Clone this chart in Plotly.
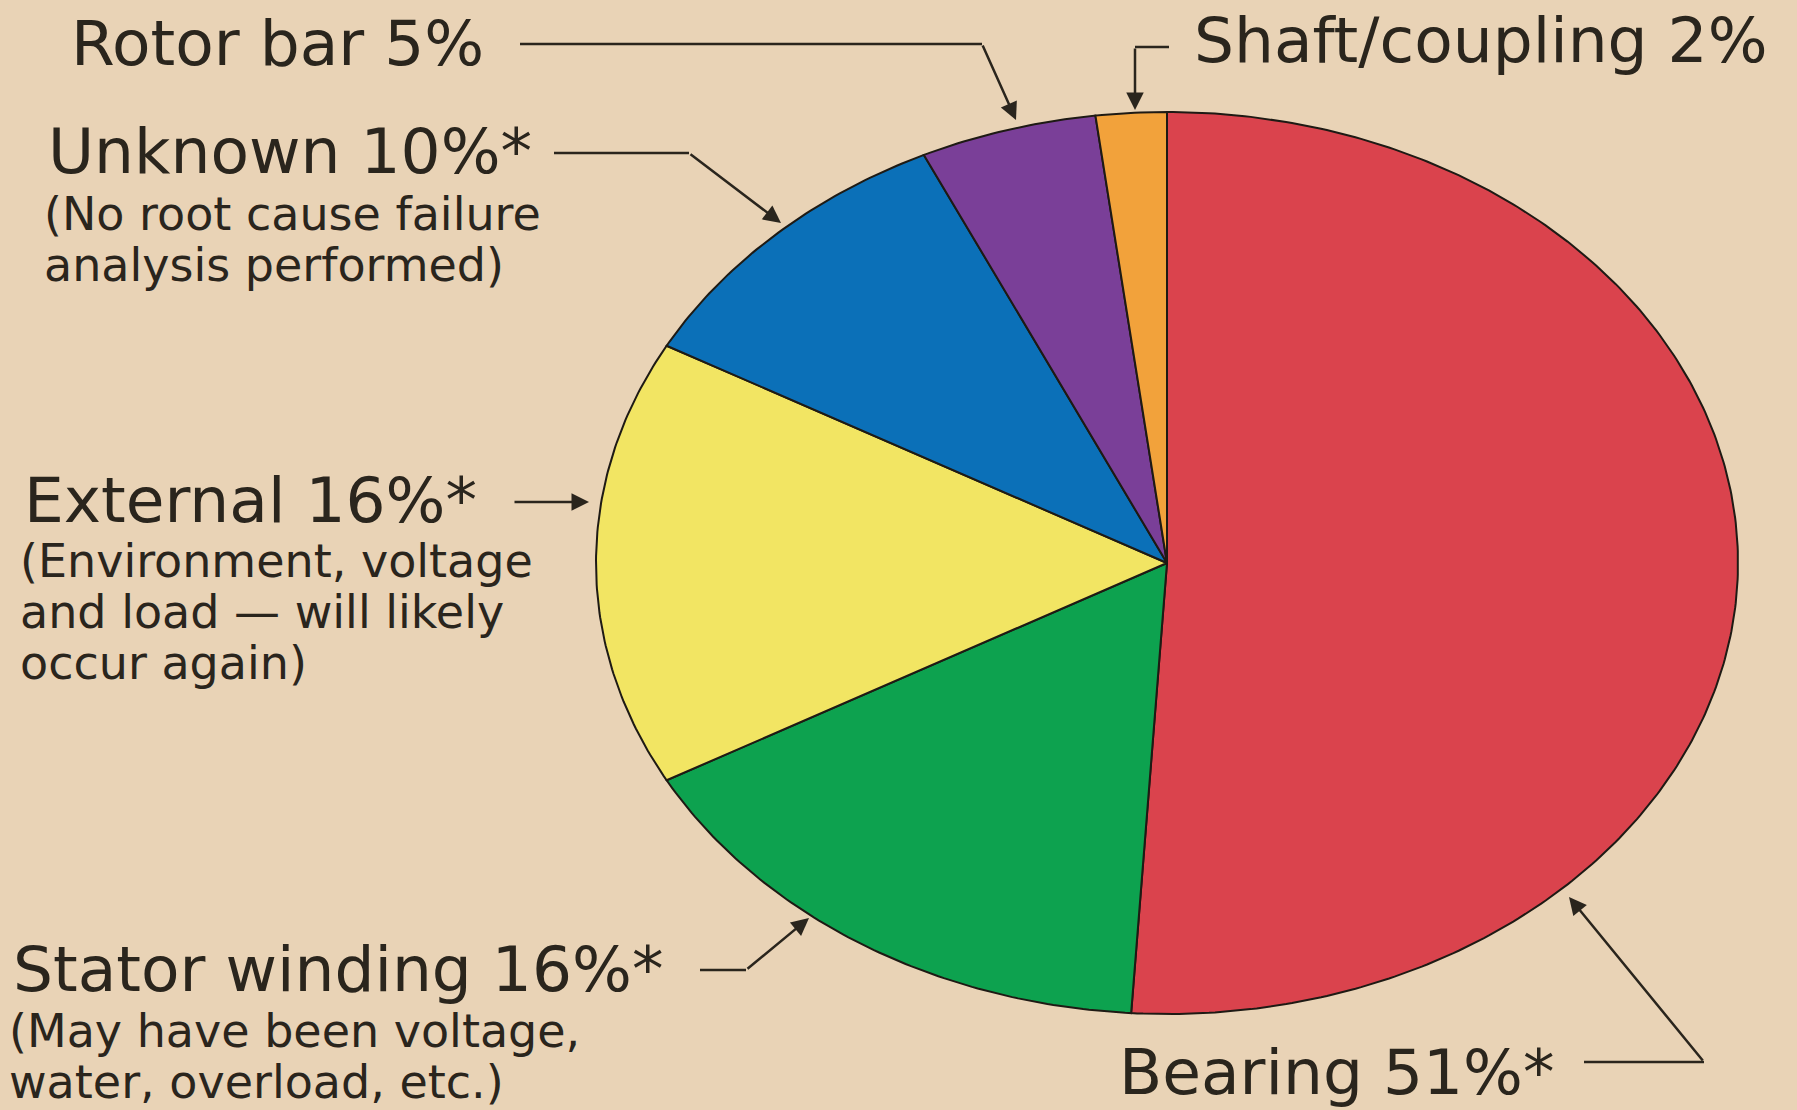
import numpy as np
import plotly.graph_objects as go

# ---------------- data ----------------
labels = ["Bearing", "Stator winding", "External", "Unknown", "Rotor bar", "Shaft/coupling"]
values = [51, 16, 16, 10, 5, 2]
starred = [True, True, True, True, False, False]
notes = [
    [],
    ["(May have been voltage,", "water, overload, etc.)"],
    ["(Environment, voltage", "and load \u2014 will likely", "occur again)"],
    ["(No root cause failure", "analysis performed)"],
    [],
    [],
]

# ---------------- styles / layout ----------------
colors = ["#DA434D", "#0DA24F", "#F2E563", "#0B70B8", "#7A3F98", "#F2A23B"]
BG = "#E9D3B6"
INK = "#2a251d"
OUTLINE = "#1e1a14"
FONT = "DejaVu Sans"
MAIN_SIZE = 63
NOTE_SIZE = 46

W, H = 1797, 1110
CX, CY, RX, RY = 1167, 563, 571, 451  # ellipse centre / radii in pixels

# label layout (pixels): text-left, text-centre-y, note centre ys, leader polyline, arrow tip
label_layout = {
    "Bearing": dict(x=1117, y=1072, notes_y=[], line=[(1584, 1062), (1704, 1062)], tip=(1569, 897)),
    "Stator winding": dict(x=11, y=969, notes_y=[1031, 1082], line=[(700, 970), (746, 970)], tip=(809, 918)),
    "External": dict(x=22, y=500, notes_y=[561, 612, 663], line=[(513, 502)], tip=(589, 502)),
    "Unknown": dict(x=46, y=152, notes_y=[214, 265], line=[(554, 153), (689, 153)], tip=(781, 223)),
    "Rotor bar": dict(x=69, y=43, notes_y=[], line=[(520, 44), (982, 44)], tip=(1016, 120)),
    "Shaft/coupling": dict(x=1192, y=41, notes_y=[], line=[(1169, 47), (1135, 47)], tip=(1135, 110)),
}


def px(x):
    return x / W


def py(y):
    return 1 - y / H


fig = go.Figure()

# ---------------- elliptical pie (clockwise from 12 o'clock) ----------------
total = float(sum(values))
cum = np.concatenate([[0.0], np.cumsum(values) / total])
for i, lab in enumerate(labels):
    t = np.linspace(cum[i], cum[i + 1], max(3, int(values[i] * 6)))
    ang = 2 * np.pi * t
    xs = np.concatenate([[0.0], np.sin(ang), [0.0]])
    ys = np.concatenate([[0.0], np.cos(ang), [0.0]])
    fig.add_trace(go.Scatter(
        x=xs, y=ys, mode="lines", fill="toself",
        fillcolor=colors[i], line=dict(color=OUTLINE, width=2),
        name=lab, hoverinfo="name", showlegend=False,
    ))

# ---------------- labels, notes, leader lines ----------------
annotations = []
shapes = []
for i, lab in enumerate(labels):
    L = label_layout[lab]
    txt = f"{lab} {values[i]}%" + ("*" if starred[i] else "")
    annotations.append(dict(
        x=px(L["x"]), y=py(L["y"]), xref="paper", yref="paper",
        xanchor="left", yanchor="middle", text=txt, showarrow=False,
        font=dict(family=FONT, size=MAIN_SIZE, color=INK),
    ))
    for note, ny in zip(notes[i], L["notes_y"]):
        annotations.append(dict(
            x=px(L["x"] - 4), y=py(ny), xref="paper", yref="paper",
            xanchor="left", yanchor="middle", text=note, showarrow=False,
            font=dict(family=FONT, size=NOTE_SIZE, color=INK),
        ))
    pts = L["line"]
    for (x0, y0), (x1, y1) in zip(pts[:-1], pts[1:]):
        shapes.append(dict(type="line", xref="paper", yref="paper",
                           x0=px(x0), y0=py(y0), x1=px(x1), y1=py(y1),
                           line=dict(color=INK, width=2.5)))
    tail = pts[-1]
    tip = L["tip"]
    annotations.append(dict(
        x=px(tip[0]), y=py(tip[1]), xref="paper", yref="paper",
        ax=tail[0] - tip[0], ay=tail[1] - tip[1], axref="pixel", ayref="pixel",
        text="", showarrow=True, arrowhead=2, arrowsize=1.4, arrowwidth=2.5,
        arrowcolor=INK, standoff=0,
    ))

fig.update_layout(
    width=W, height=H,
    margin=dict(l=0, r=0, t=0, b=0),
    paper_bgcolor=BG, plot_bgcolor=BG,
    xaxis=dict(range=[(0 - CX) / RX, (W - CX) / RX], visible=False, fixedrange=True),
    yaxis=dict(range=[(CY - H) / RY, CY / RY], visible=False, fixedrange=True),
    annotations=annotations,
    shapes=shapes,
    showlegend=False,
)

fig.write_html(
    "out.html",
    config={"displayModeBar": False},
    post_script="document.body.style.margin='0';document.body.style.overflow='hidden';"
                "document.body.style.background='" + BG + "';",
)
